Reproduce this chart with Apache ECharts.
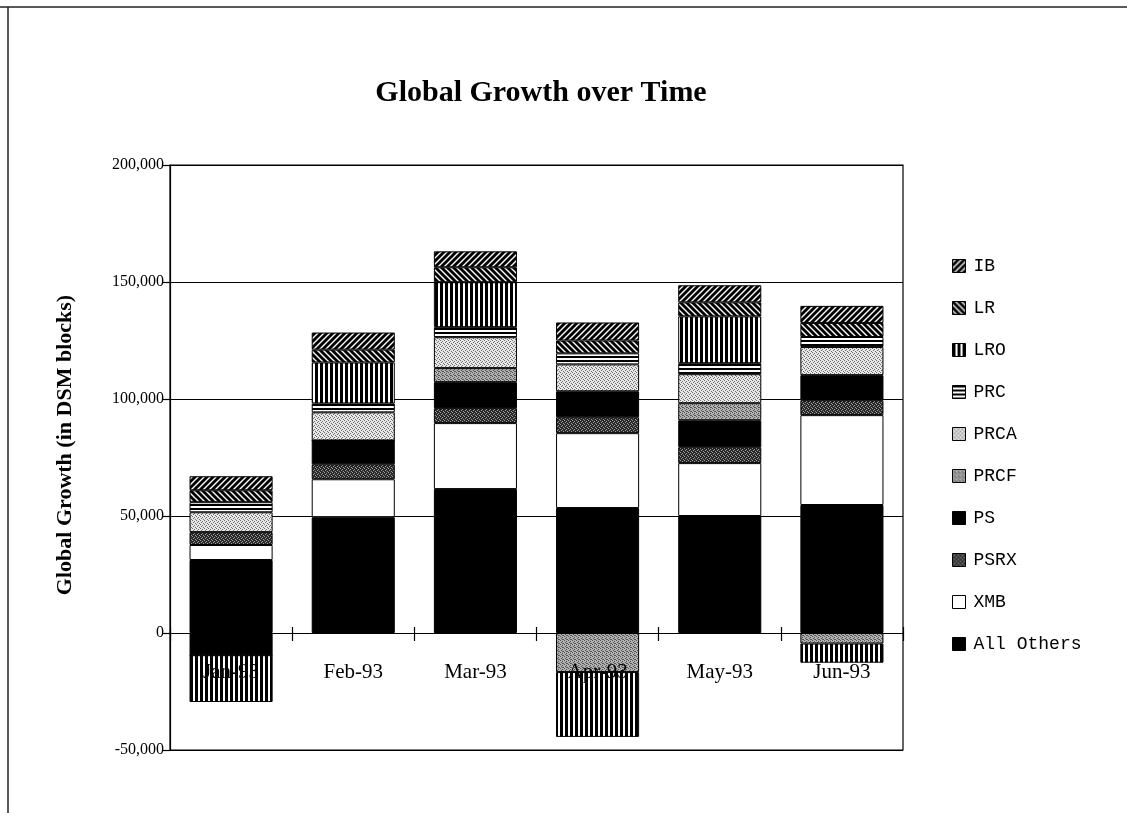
<!DOCTYPE html>
<html>
<head>
<meta charset="utf-8">
<script src="https://cdn.jsdelivr.net/npm/echarts@6/dist/echarts.min.js"></script>
<style>
html,body{margin:0;padding:0;background:#fff;}
#chart{width:1127px;height:813px;}
</style>
</head>
<body>
<div id="chart"></div>
<script>
// ---- data ----
const categories = ['Jan-93', 'Feb-93', 'Mar-93', 'Apr-93', 'May-93', 'Jun-93'];
const allOthers = [31200, 49500, 61500, 53400, 50000, 54700];
const xmb       = [6400, 16200, 28200, 32000, 22600, 38400];
const psrx      = [5500, 6400, 6400, 6800, 6800, 6400];
const ps        = [-9500, 10200, 11100, 11100, 11500, 10700];
const prcf      = [0, 0, 6000, -16700, 7300, -4500];
const prca      = [8500, 12000, 13200, 11500, 12400, 12000];
const prc       = [4300, 3800, 4300, 4700, 4700, 4300];
const lro       = [-20000, 17500, 19200, -27700, 20000, -8200];
const lr        = [5100, 5500, 6400, 5500, 6000, 6000];
const ib        = [6000, 7300, 6800, 7700, 7300, 7300];
const yTicks = [-50000, 0, 50000, 100000, 150000, 200000];
const legendOrder = ['IB', 'LR', 'LRO', 'PRC', 'PRCA', 'PRCF', 'PS', 'PSRX', 'XMB', 'All Others'];

// ---- fill patterns ----
function tile(w, h, draw) {
  const c = document.createElement('canvas');
  c.width = w; c.height = h;
  const g = c.getContext('2d');
  draw(g, w, h);
  return { image: c, repeat: 'repeat' };
}
function diag(dir) {
  return tile(6, 6, (g) => {
    g.fillStyle = '#fff'; g.fillRect(0, 0, 6, 6);
    g.strokeStyle = '#000'; g.lineWidth = 2.9;
    const segs = dir > 0
      ? [[-1, 7, 7, -1], [-1, 1, 1, -1], [5, 7, 7, 5]]
      : [[-1, -1, 7, 7], [5, -1, 7, 1], [-1, 5, 1, 7]];
    segs.forEach(s => { g.beginPath(); g.moveTo(s[0], s[1]); g.lineTo(s[2], s[3]); g.stroke(); });
  });
}
function dots(bg, fg, pts, size) {
  return tile(size, size, (g) => {
    g.fillStyle = bg; g.fillRect(0, 0, size, size);
    g.fillStyle = fg;
    pts.forEach(p => g.fillRect(p[0], p[1], 1, 1));
  });
}
const fills = {
  'IB': diag(1),
  'LR': diag(-1),
  'LRO': tile(5, 2, (g) => { g.fillStyle = '#000'; g.fillRect(0, 0, 5, 2); g.fillStyle = '#fff'; g.fillRect(3, 0, 2, 2); }),
  'PRC': tile(2, 4, (g) => { g.fillStyle = '#fff'; g.fillRect(0, 0, 2, 4); g.fillStyle = '#000'; g.fillRect(0, 0, 2, 2); }),
  'PRCA': dots('#e6e6e6', '#707070', [[0, 0], [2, 1], [1, 2], [3, 3]], 4),
  'PRCF': dots('#b0b0b0', '#555', [[0, 0], [2, 1], [1, 2], [3, 3], [2, 3]], 4),
  'PS': '#000',
  'PSRX': dots('#2a2a2a', '#999', [[0, 0], [2, 1], [3, 3], [1, 2]], 4),
  'XMB': '#fff',
  'All Others': '#000'
};

const seriesDefs = [
  ['All Others', allOthers], ['XMB', xmb], ['PSRX', psrx], ['PS', ps], ['PRCF', prcf],
  ['PRCA', prca], ['PRC', prc], ['LRO', lro], ['LR', lr], ['IB', ib]
];

const serif = '"Liberation Serif", "Times New Roman", serif';
const mono = '"Liberation Mono", "Courier New", monospace';

// grid geometry: plot spans y 165 (200,000) .. 750 (-50,000); the category axis sits on the zero line
const gridTop = 165, gridBottomY = 750;
const zeroOffset = (gridBottomY - gridTop) * (0 - yTicks[0]) / (yTicks[yTicks.length - 1] - yTicks[0]);

const chart = echarts.init(document.getElementById('chart'), null, { renderer: 'canvas' });
chart.setOption({
  backgroundColor: '#fff',
  animation: false,
  title: {
    text: 'Global Growth over Time',
    left: 536, top: 73, textAlign: 'center',
    textStyle: { fontFamily: serif, fontWeight: 'bold', fontSize: 30, color: '#000' }
  },
  grid: { left: 170, right: 224, top: gridTop, bottom: 813 - gridBottomY, show: true, borderColor: '#000', borderWidth: 1.2, backgroundColor: 'transparent' },
  legend: {
    orient: 'vertical', left: 947, top: 252,
    data: legendOrder,
    itemWidth: 13, itemHeight: 13, itemGap: 24,
    icon: 'rect',
    textStyle: { fontFamily: mono, fontSize: 18, color: '#000', lineHeight: 16, padding: [0, 0, 0, 3] },
    itemStyle: { borderColor: '#000', borderWidth: 1 }
  },
  xAxis: [{
    type: 'category', data: categories, position: 'bottom', offset: -zeroOffset, z: 10,
    axisLine: { onZero: false, lineStyle: { color: '#000', width: 1.2 } },
    axisTick: { show: true, length: 8, inside: false, lineStyle: { color: '#000', width: 1.2 } },
    axisLabel: { margin: 29, fontFamily: serif, fontSize: 21, color: '#000' },
    splitLine: { show: false }
  }, {
    type: 'category', data: categories, position: 'top', offset: -(gridBottomY - gridTop - zeroOffset), z: 10,
    axisLine: { onZero: false, show: false },
    axisTick: { show: true, length: 6, inside: false, lineStyle: { color: '#000', width: 1.2 } },
    axisLabel: { show: false },
    splitLine: { show: false }
  }],
  yAxis: {
    type: 'value', min: yTicks[0], max: yTicks[yTicks.length - 1], interval: 50000,
    axisLine: { show: true, lineStyle: { color: '#000', width: 1.2 } },
    axisTick: { show: true, length: 7, lineStyle: { color: '#000', width: 1.2 } },
    axisLabel: {
      margin: 6, fontFamily: serif, fontSize: 16, color: '#000',
      formatter: v => v.toLocaleString('en-US')
    },
    splitLine: { show: true, lineStyle: { color: '#000', width: 1.2 } }
  },
  series: seriesDefs.map(([name, vals]) => ({
    name, type: 'bar', stack: 'total', data: vals, barWidth: '68%',
    itemStyle: { color: fills[name], borderColor: '#000', borderWidth: 1 },
    emphasis: { disabled: true }
  })),
  graphic: [
    { type: 'line', shape: { x1: 0, y1: 7, x2: 1127, y2: 7 }, style: { stroke: '#222', lineWidth: 1.5 } },
    { type: 'line', shape: { x1: 8, y1: 7, x2: 8, y2: 813 }, style: { stroke: '#222', lineWidth: 1.5 } },
    {
      type: 'text', x: 65, y: 445, rotation: Math.PI / 2,
      style: {
        text: 'Global Growth (in DSM blocks)', fill: '#000',
        font: 'bold 22px "Liberation Serif", "Times New Roman", serif',
        textAlign: 'center', textVerticalAlign: 'middle'
      }
    }
  ]
});
</script>
</body>
</html>
